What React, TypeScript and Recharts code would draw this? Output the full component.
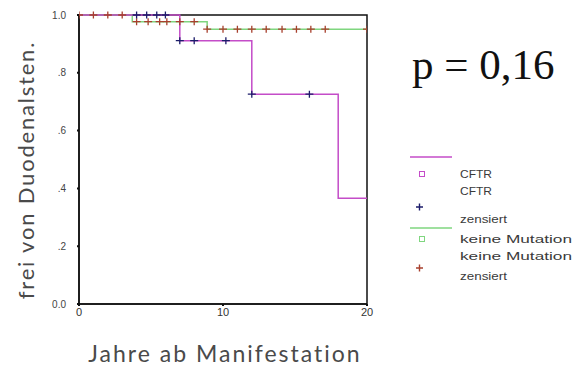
import React from "react";
import {
  ComposedChart,
  Line,
  Scatter,
  XAxis,
  YAxis,
  ReferenceArea,
} from "recharts";

// Kaplan-Meier step curves
const cftrTimes = [0, 7, 12, 18, 20];
const cftrSurv = [1.0, 0.911, 0.726, 0.366, 0.366];

const keineTimes = [0, 3.7, 8.9, 20];
const keineSurv = [1.0, 0.977, 0.951, 0.951];

// Censored observations
const cftrCensTimes = [4, 4.7, 5.4, 6, 7, 8, 10.2, 12, 16];
const cftrCensSurv = [1, 1, 1, 1, 0.911, 0.911, 0.911, 0.726, 0.726];

const keineCensTimes = [0, 1, 2, 3, 4, 4.8, 5.6, 6.1, 7, 8, 8.9, 10, 11, 12, 13, 14.1, 15.1, 16.1, 17.1, 20];
const keineCensSurv = [1, 1, 1, 1, 0.977, 0.977, 0.977, 0.977, 0.977, 0.977, 0.951, 0.951, 0.951, 0.951, 0.951, 0.951, 0.951, 0.951, 0.951, 0.951];

const xTicks = [0, 10, 20];
const yTicks = [0, 0.2, 0.4, 0.6, 0.8, 1.0];
const yTickLabels = ["0.0", ".2", ".4", ".6", ".8", "1.0"];

const zip = (t: number[], s: number[]) => t.map((v, i) => ({ t: v, s: s[i] }));

const cftrData = zip(cftrTimes, cftrSurv);
const keineData = zip(keineTimes, keineSurv);
const cftrCens = zip(cftrCensTimes, cftrCensSurv);
const keineCens = zip(keineCensTimes, keineCensSurv);

const MAGENTA = "#c44cc8";
const GREEN = "#7fd67f";
const NAVY = "#1c1c6a";
const RED = "#a8402e";

const plus = (color: string) => (props: any) => {
  const { cx, cy } = props;
  return (
    <path
      d={`M${cx - 4},${cy}h8M${cx},${cy - 3.5}v7`}
      stroke={color}
      strokeWidth={1.3}
      fill="none"
    />
  );
};

const legendFont = "'Liberation Sans', Arial, sans-serif";

const LegendBlock = () => (
  <svg
    width={170}
    height={140}
    style={{ position: "absolute", left: 410, top: 148, overflow: "visible" }}
  >
    <g fontFamily={legendFont} fontSize={10.5} fill="#3a3a3a">
      <line x1={0} x2={42} y1={9} y2={9} stroke={MAGENTA} strokeWidth={1.5} />
      <rect x={9.5} y={23.5} width={5} height={5} fill="none" stroke={MAGENTA} strokeWidth={1} />
      <text x={50} y={30} textLength={32} lengthAdjust="spacingAndGlyphs">CFTR</text>
      <text x={50} y={47} textLength={32} lengthAdjust="spacingAndGlyphs">CFTR</text>
      <path d="M6,59h7M9.5,55.5v7" stroke={NAVY} strokeWidth={1.4} />
      <text x={50} y={75} textLength={47} lengthAdjust="spacingAndGlyphs">zensiert</text>
      <line x1={0} x2={42} y1={80} y2={80} stroke={GREEN} strokeWidth={1.5} />
      <rect x={9.5} y={88.5} width={5} height={5} fill="none" stroke={GREEN} strokeWidth={1} />
      <text x={50} y={95} textLength={112} lengthAdjust="spacingAndGlyphs">keine Mutation</text>
      <text x={50} y={112} textLength={112} lengthAdjust="spacingAndGlyphs">keine Mutation</text>
      <path d="M6,120h7M9.5,116.5v7" stroke={RED} strokeWidth={1.4} />
      <text x={50} y={132} textLength={47} lengthAdjust="spacingAndGlyphs">zensiert</text>
    </g>
  </svg>
);

const YTick = (props: any) => {
  const { x, y, payload } = props;
  const idx = yTicks.indexOf(payload.value);
  return (
    <text
      x={x - 9}
      y={y + 3.5}
      textAnchor="end"
      fontSize={10}
      fontFamily={legendFont}
      fill="#444"
    >
      {idx >= 0 ? yTickLabels[idx] : payload.value}
    </text>
  );
};

export default function App() {
  return (
    <div style={{ position: "absolute", left: 0, top: 0, width: 574, height: 367, background: "#fff", overflow: "hidden" }}>
      <ComposedChart
        width={574}
        height={367}
        margin={{ top: 15, right: 207, bottom: 43, left: 0 }}
      >
        <XAxis
          dataKey="t"
          type="number"
          domain={[0, 20]}
          ticks={xTicks}
          allowDataOverflow
          axisLine={{ stroke: "#111", strokeWidth: 1.5 }}
          tickLine={{ stroke: "#111", strokeWidth: 2 }}
          tickSize={2}
          tick={{ fontSize: 11, fill: "#333", fontFamily: legendFont }}
          height={20}
        />
        <YAxis
          type="number"
          domain={[0, 1]}
          ticks={yTicks}
          width={79}
          axisLine={{ stroke: "#111", strokeWidth: 1.5 }}
          tickLine={{ stroke: "#111", strokeWidth: 2 }}
          tickSize={2}
          tick={<YTick />}
        />
        <ReferenceArea
          x1={0}
          x2={20}
          y1={0}
          y2={1}
          fill="none"
          fillOpacity={0}
          stroke="#111"
          strokeWidth={1.5}
          ifOverflow="visible"
        />
        <Line
          data={keineData}
          dataKey="s"
          type="stepAfter"
          stroke={GREEN}
          strokeWidth={1.5}
          dot={false}
          isAnimationActive={false}
        />
        <Line
          data={cftrData}
          dataKey="s"
          type="stepAfter"
          stroke={MAGENTA}
          strokeWidth={1.5}
          dot={false}
          isAnimationActive={false}
        />
        <Scatter
          data={keineCens}
          dataKey="s"
          shape={plus(RED)}
          isAnimationActive={false}
        />
        <Scatter
          data={cftrCens}
          dataKey="s"
          shape={plus(NAVY)}
          isAnimationActive={false}
        />
      </ComposedChart>
      <LegendBlock />
      <div
        style={{
          position: "absolute",
          left: 26,
          top: 170,
          transform: "translate(-50%, -50%) rotate(-90deg)",
          whiteSpace: "nowrap",
          fontFamily: "Lato, sans-serif",
          fontSize: 22,
          lineHeight: 1,
          letterSpacing: 1.8,
          color: "#4a4a4a",
        }}
      >
        frei von Duodenalsten.
      </div>
      <div
        style={{
          position: "absolute",
          left: 225,
          top: 353,
          transform: "translate(-50%, -50%)",
          whiteSpace: "nowrap",
          fontFamily: "Lato, sans-serif",
          fontSize: 23,
          lineHeight: 1,
          letterSpacing: 2,
          color: "#4a4a4a",
        }}
      >
        Jahre ab Manifestation
      </div>
      <div
        style={{
          position: "absolute",
          left: 412,
          top: 40,
          whiteSpace: "nowrap",
          fontFamily: "'Liberation Serif', 'Times New Roman', serif",
          fontSize: 43,
          lineHeight: "50px",
          color: "#111",
        }}
      >
        p = 0,16
      </div>
    </div>
  );
}
